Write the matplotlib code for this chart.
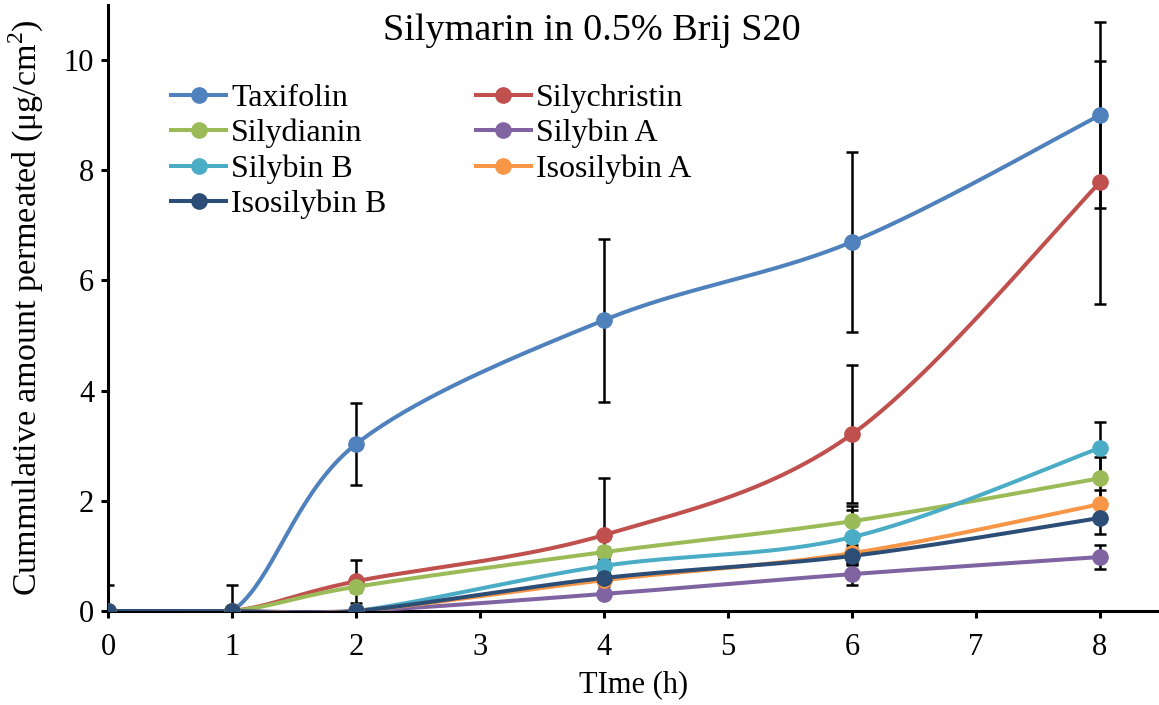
import numpy as np
import matplotlib.pyplot as plt

plt.rcParams['font.family'] = ['Liberation Serif', 'DejaVu Serif']
plt.rcParams['mathtext.fontset'] = 'custom'
plt.rcParams['mathtext.rm'] = 'Liberation Serif'

time_h = [0, 1, 2, 4, 6, 8]
names = ['Taxifolin', 'Silychristin', 'Silydianin', 'Silybin A',
         'Silybin B', 'Isosilybin A', 'Isosilybin B']
colors = ['#4F81BD', '#C0504D', '#9BBB59', '#8064A2',
          '#4BACC6', '#F79646', '#2C4D75']

taxifolin = [0, 0, 3.03, 5.28, 6.70, 9.00]
silychristin = [0, 0, 0.54, 1.38, 3.21, 7.78]
silydianin = [0, 0, 0.44, 1.07, 1.63, 2.41]
silybin_a = [0, 0, 0, 0.31, 0.67, 0.98]
silybin_b = [0, 0, 0, 0.82, 1.34, 2.96]
isosilybin_a = [0, 0, 0, 0.56, 1.05, 1.94]
isosilybin_b = [0, 0, 0, 0.60, 1.00, 1.69]

taxifolin_sd = [0.47, 0.47, 0.74, 1.48, 1.64, 1.69]
silychristin_sd = [0, 0, 0.39, 1.03, 1.25, 2.20]
silydianin_sd = [0, 0, 0.10, 0.10, 0.28, 0.39]
silybin_a_sd = [0, 0, 0, 0.05, 0.20, 0.22]
silybin_b_sd = [0, 0, 0, 0.10, 0.50, 0.47]
isosilybin_a_sd = [0, 0, 0, 0.10, 0.15, 0.26]
isosilybin_b_sd = [0, 0, 0, 0.10, 0.15, 0.29]

series = [taxifolin, silychristin, silydianin, silybin_a,
          silybin_b, isosilybin_a, isosilybin_b]
errors = [taxifolin_sd, silychristin_sd, silydianin_sd, silybin_a_sd,
          silybin_b_sd, isosilybin_a_sd, isosilybin_b_sd]


def smooth(x, y, n=40):
    # Catmull-Rom style bezier through the points (like spreadsheet "smoothed line")
    p = np.column_stack([x, y]).astype(float)
    pts = []
    for i in range(len(p) - 1):
        p0 = p[i - 1] if i > 0 else p[i]
        p3 = p[i + 2] if i + 2 < len(p) else p[i + 1]
        c1 = p[i] + (p[i + 1] - p0) / 6
        c2 = p[i + 1] - (p3 - p[i]) / 6
        t = np.linspace(0, 1, n)[:, None]
        seg = ((1 - t) ** 3 * p[i] + 3 * (1 - t) ** 2 * t * c1
               + 3 * (1 - t) * t ** 2 * c2 + t ** 3 * p[i + 1])
        pts.append(seg if i == 0 else seg[1:])
    pts = np.vstack(pts)
    return pts[:, 0], pts[:, 1]


fig = plt.figure(figsize=(11.59, 7.05), dpi=100)
ax = fig.add_axes([0.0932, 0.1333, 0.9068, 0.8596])

for y, err in zip(series, errors):
    ax.errorbar(time_h, y, yerr=err, fmt='none', ecolor='black',
                elinewidth=1.8, capsize=4.5, capthick=1.8, zorder=2)

handles = {}
for name, y, c in zip(names, series, colors):
    sx, sy = smooth(time_h, y)
    ax.plot(sx, sy, color=c, lw=2.9, zorder=3, solid_capstyle='round')
    ax.plot(time_h, y, 'o', color=c, ms=11, zorder=4)
    handles[name], = ax.plot([], [], '-o', color=c, lw=2.9, ms=11)

ax.set_xlim(0, 8.476)
ax.set_ylim(0, 11.0)
ax.set_xticks(range(0, 9))
ax.set_yticks(range(0, 11, 2))

for side in ['top', 'right']:
    ax.spines[side].set_visible(False)
for side in ['left', 'bottom']:
    ax.spines[side].set_linewidth(2.2)
ax.tick_params(width=2.2, length=5, labelsize=22, direction='out')
ax.tick_params(axis='x', pad=11)
ax.tick_params(axis='y', pad=5)

ax.set_xlabel('TIme (h)', fontsize=22, labelpad=6)
ax.set_ylabel('Cummulative amount permeated (μg/cm$^2$)', fontsize=24.5, labelpad=13)
fig.text(0.511, 0.957, 'Silymarin in 0.5% Brij S20', fontsize=27.5,
         ha='center', va='center')

# legend fills row by row: reorder entries for the column-major layout
order = names[0::2] + names[1::2]
ax.legend([handles[n] for n in order], order, loc='upper left',
          bbox_to_anchor=(0.048, 0.891), ncol=2, borderaxespad=0,
          frameon=False, fontsize=23, handlelength=1.72, columnspacing=2.8,
          labelspacing=0.18, handletextpad=0.15)

fig.savefig('out.png', dpi=100)
